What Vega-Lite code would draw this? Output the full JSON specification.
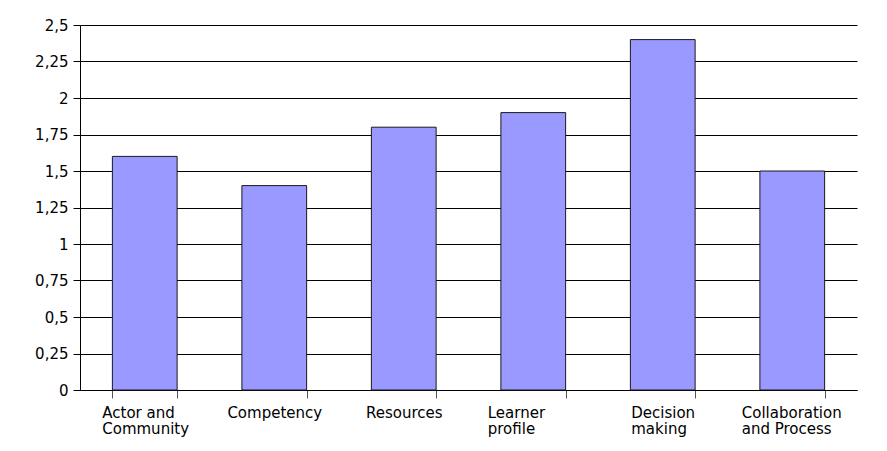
{
  "$schema": "https://vega.github.io/schema/vega-lite/v6.json",
  "width": 777,
  "height": 365,
  "autosize": {"type": "none"},
  "padding": {"left": 80, "top": 25, "right": 30, "bottom": 61},
  "background": "white",
  "config": {
    "view": {"stroke": null},
    "font": "DejaVu Sans",
    "axis": {"labelFont": "DejaVu Sans", "labelFontSize": 15, "labelColor": "#000"}
  },
  "data": {
    "values": [
      {"category": "Actor and Community", "value": 1.6},
      {"category": "Competency", "value": 1.4},
      {"category": "Resources", "value": 1.8},
      {"category": "Learner profile", "value": 1.9},
      {"category": "Decision making", "value": 2.4},
      {"category": "Collaboration and Process", "value": 1.5}
    ]
  },
  "mark": {"type": "bar", "fill": "#9999FF", "stroke": "#1a1a1a", "strokeWidth": 1},
  "encoding": {
    "x": {
      "field": "category",
      "type": "nominal",
      "sort": null,
      "title": null,
      "scale": {"paddingInner": 0.5, "paddingOuter": 0.25},
      "axis": {
        "labelAngle": 0,
        "tickBand": "extent",
        "tickSize": 8,
        "tickColor": "#555",
        "domainColor": "#000",
        "labelPadding": 7,
        "labelLineHeight": 16,
        "labelBaseline": "top",
        "labelExpr": "datum.value == 'Actor and Community' ? ['Actor and', 'Community'] : datum.value == 'Learner profile' ? ['Learner', 'profile'] : datum.value == 'Decision making' ? ['Decision', 'making'] : datum.value == 'Collaboration and Process' ? ['Collaboration', 'and Process'] : datum.value",
        "labelAlign": {
          "condition": {"test": "datum.value == 'Competency' || datum.value == 'Resources'", "value": "center"},
          "value": "left"
        },
        "labelOffset": {
          "condition": [
            {"test": "datum.value == 'Actor and Community'", "value": -43},
            {"test": "datum.value == 'Learner profile'", "value": -46},
            {"test": "datum.value == 'Decision making'", "value": -32},
            {"test": "datum.value == 'Collaboration and Process'", "value": -51}
          ],
          "value": 0
        }
      }
    },
    "y": {
      "field": "value",
      "type": "quantitative",
      "title": null,
      "scale": {"domain": [0, 2.5], "nice": false},
      "axis": {
        "values": [0, 0.25, 0.5, 0.75, 1, 1.25, 1.5, 1.75, 2, 2.25, 2.5],
        "grid": true,
        "gridColor": "#000",
        "gridOpacity": 1,
        "gridWidth": 1,
        "domainColor": "#000",
        "tickColor": "#000",
        "tickSize": 7,
        "labelPadding": 5,
        "labelExpr": "replace(format(datum.value, '.2~f'), '.', ',')"
      }
    }
  }
}
